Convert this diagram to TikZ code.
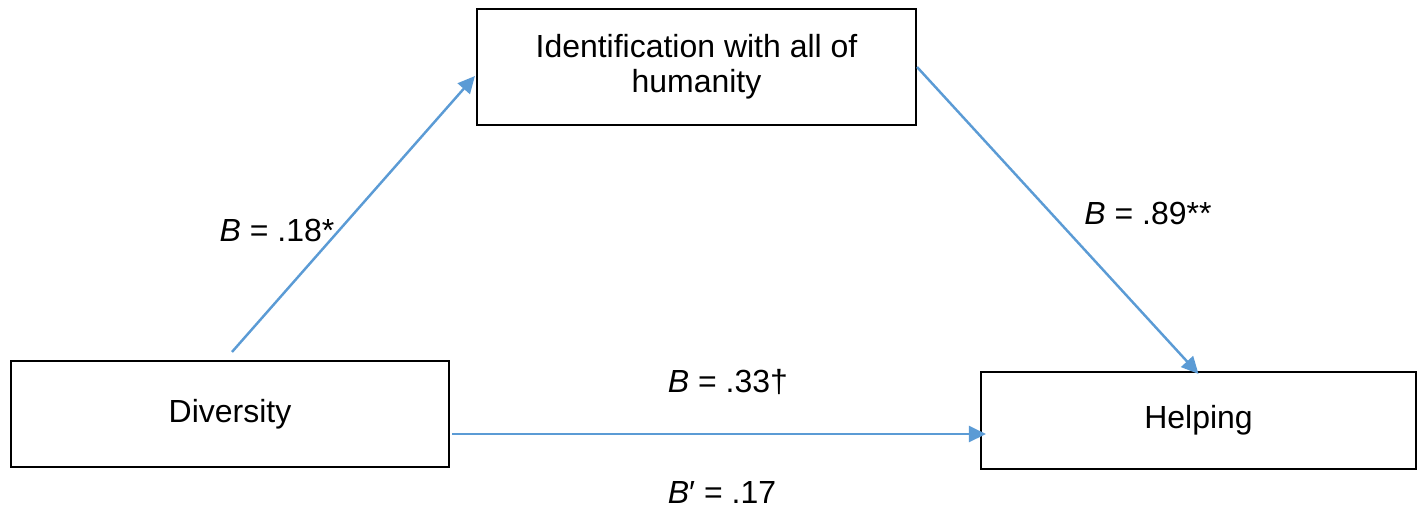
\documentclass[tikz,border=0pt]{standalone}
\usepackage{fontspec}
\setmainfont{Liberation Sans}
\usepackage{tikz}
\usetikzlibrary{arrows.meta, positioning, calc}
\definecolor{pathblue}{RGB}{91,155,213}
\tikzset{
  var/.style  = {draw=black, line width=1.2pt, align=center, inner sep=0pt,
                 font=\fontsize{18.2}{20}\selectfont},
  coef/.style = {font=\fontsize{18.2}{20}\selectfont, inner sep=1pt},
  path/.style = {-{Triangle[length=0.34cm, width=0.32cm]}, line width=1.4pt, color=pathblue},
}

\begin{document}
\begin{tikzpicture}
  \useasboundingbox (0,0) rectangle (28.36,-10.18);

  \node[var, minimum width=8.76cm, minimum height=2.12cm] (div)   at (4.60,-8.28)  {Diversity};
  \node[var, minimum width=8.78cm, minimum height=2.32cm] (ident) at (13.93,-1.34)
       {Identification with all of\\humanity};
  \node[var, minimum width=8.70cm, minimum height=1.94cm] (help)  at (23.97,-8.41) {Helping};

  % free ends of the paths, off the box edges
  \coordinate (a1) at ($(div.north)+(0.04,0.16)$);
  \coordinate (a2) at ($(ident.west)+(-0.02,-0.18)$);
  \coordinate (c1) at ($(div.east)+(0.04,-0.40)$);
  \coordinate (c2) at ($(c1 -| help.west)+(0.12,0)$);

  \draw[path] (a1) -- (a2);
  \draw[path] (ident.east) -- ($(help.north)+(0,-0.06)$);
  \draw[path] (c1) -- (c2);

  \node[coef] (b18) at (5.54,-4.60)  {\textit{B} = .18*};
  \node[coef] (b89) at (22.96,-4.26) {\textit{B} = .89**};
  \node[coef] (b33) at (14.56,-7.64) {\textit{B} = .33†};
  \node[coef] (b17) at (14.44,-9.84) {\textit{B}′ = .17};
\end{tikzpicture}
\end{document}
